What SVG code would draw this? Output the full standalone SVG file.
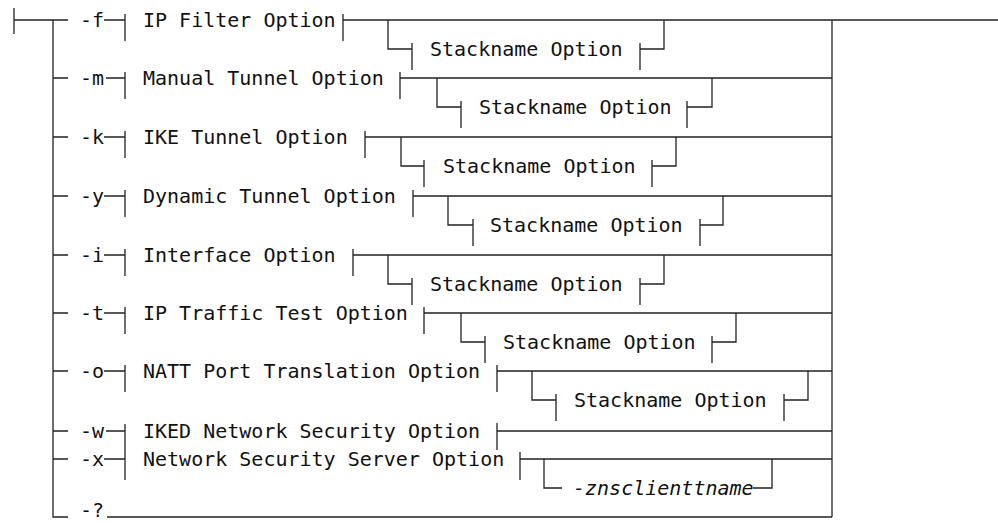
<svg xmlns="http://www.w3.org/2000/svg" width="998" height="523" viewBox="0 0 998 523">
<style>
.l{fill:none;stroke:#222;stroke-width:1.3}
.t{font-family:"DejaVu Sans Mono",monospace;font-size:20px;fill:#111}
.i{font-style:italic}
</style>
<rect width="998" height="523" fill="#fff"/>
<g id="connectors" class="l">
<path d="M14 8V34M14 20H68M53 20V517H68"/>
<path d="M53 78H68M53 137H68M53 196H68M53 255H68M53 313H68M53 371H68M53 431H68M53 459H68"/>
<path d="M832 20V517M832 20H998"/>
<path d="M343 20H832M400 78H832M365 137H832M413 196H832M353 255H832M424 313H832M497 371H832M497 431H832M520 459H832M107 517H832"/>
</g>
<g id="row-f">
<text class="t" x="80" y="27">-f</text><path class="l" d="M104 20H125M125 14V41M343 14V41"/>
<text class="t" x="143" y="27">IP Filter Option</text>
</g>
<g id="stack-f">
<path class="l" d="M388 20V49H412M412 43V70M640 43V70M640 49H664V20"/>
<text class="t" x="430" y="56">Stackname Option</text>
</g>
<g id="row-m">
<text class="t" x="80" y="85">-m</text><path class="l" d="M106 78H125M125 72V99M400 72V99"/>
<text class="t" x="143" y="85">Manual Tunnel Option</text>
</g>
<g id="stack-m">
<path class="l" d="M437 78V107H461M461 101V128M687 101V128M687 107H712V78"/>
<text class="t" x="479" y="114">Stackname Option</text>
</g>
<g id="row-k">
<text class="t" x="80" y="144">-k</text><path class="l" d="M104 137H125M125 131V158M365 131V158"/>
<text class="t" x="143" y="144">IKE Tunnel Option</text>
</g>
<g id="stack-k">
<path class="l" d="M401 137V166H424M424 160V187M652 160V187M652 166H676V137"/>
<text class="t" x="443" y="173">Stackname Option</text>
</g>
<g id="row-y">
<text class="t" x="80" y="203">-y</text><path class="l" d="M104 196H125M125 190V217M413 190V217"/>
<text class="t" x="143" y="203">Dynamic Tunnel Option</text>
</g>
<g id="stack-y">
<path class="l" d="M448 196V225H473M473 219V246M700 219V246M700 225H723V196"/>
<text class="t" x="490" y="232">Stackname Option</text>
</g>
<g id="row-i">
<text class="t" x="80" y="262">-i</text><path class="l" d="M104 255H125M125 249V276M353 249V276"/>
<text class="t" x="143" y="262">Interface Option</text>
</g>
<g id="stack-i">
<path class="l" d="M388 255V284H412M412 278V305M640 278V305M640 284H664V255"/>
<text class="t" x="430" y="291">Stackname Option</text>
</g>
<g id="row-t">
<text class="t" x="80" y="320">-t</text><path class="l" d="M104 313H125M125 307V334M424 307V334"/>
<text class="t" x="143" y="320">IP Traffic Test Option</text>
</g>
<g id="stack-t">
<path class="l" d="M461 313V342H485M485 336V363M712 336V363M712 342H736V313"/>
<text class="t" x="503" y="349">Stackname Option</text>
</g>
<g id="row-o">
<text class="t" x="80" y="378">-o</text><path class="l" d="M104 371H125M125 365V392M497 365V392"/>
<text class="t" x="143" y="378">NATT Port Translation Option</text>
</g>
<g id="stack-o">
<path class="l" d="M532 371V400H556M556 394V421M784 394V421M784 400H808V371"/>
<text class="t" x="574" y="407">Stackname Option</text>
</g>
<g id="row-w">
<text class="t" x="80" y="438">-w</text><path class="l" d="M106 431H125M125 424V452M497 423V450"/>
<text class="t" x="143" y="438">IKED Network Security Option</text>
</g>
<g id="row-x">
<text class="t" x="80" y="466">-x</text><path class="l" d="M104 459H125M125 452V480M520 452V480"/>
<text class="t" x="143" y="466">Network Security Server Option</text>
</g>
<g id="opt-znsclienttname">
<path class="l" d="M544 459V488H562M753 488H772V459"/>
<text class="t i" x="573" y="495">-znsclienttname</text>
</g>
<g id="row-q">
<text class="t" x="80" y="517">-?</text>
</g>
</svg>
